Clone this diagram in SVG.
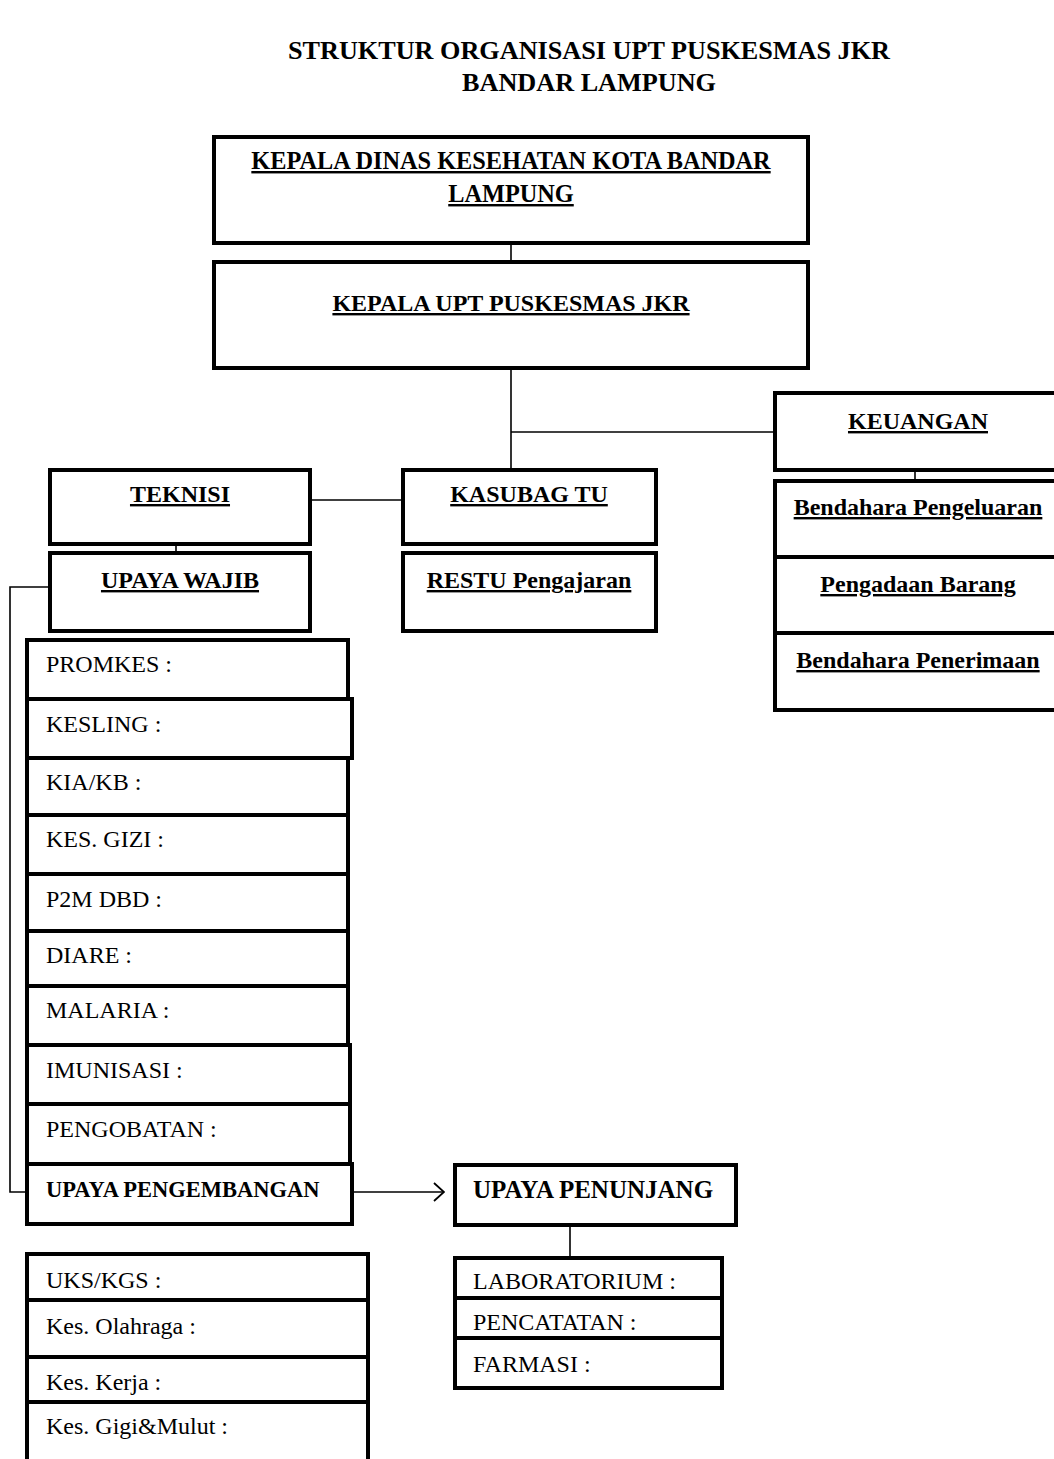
<svg xmlns="http://www.w3.org/2000/svg" width="1054" height="1459" viewBox="0 0 1054 1459">
<style>
.box{fill:#fff;stroke:#000;stroke-width:4}
.ln{fill:none;stroke:#000;stroke-width:1.6}
.b{font-family:"Liberation Serif","Times New Roman",serif;font-weight:bold;font-size:24px;fill:#000}
.u{text-decoration:underline}
.r{font-family:"Liberation Serif","Times New Roman",serif;font-size:24px;fill:#000}
.c{text-anchor:middle}
</style>
<defs>
<marker id="arr" viewBox="0 0 12 20" refX="11" refY="10" markerWidth="12" markerHeight="20" markerUnits="userSpaceOnUse" orient="auto">
<path d="M1,1 L11,10 L1,19" fill="none" stroke="#000" stroke-width="1.8"/>
</marker>
</defs>
<rect width="1054" height="1459" fill="#fff"/>
<g id="title">
<text class="b c" x="589" y="59" style="font-size:26.2px">STRUKTUR ORGANISASI UPT PUSKESMAS JKR</text>
<text class="b c" x="589" y="91" style="font-size:26.2px">BANDAR LAMPUNG</text>
</g>
<g id="connectors">
<line class="ln" x1="511" y1="243" x2="511" y2="262"/>
<line class="ln" x1="511" y1="368" x2="511" y2="470"/>
<line class="ln" x1="511" y1="432" x2="775" y2="432"/>
<line class="ln" x1="915" y1="470" x2="915" y2="481"/>
<line class="ln" x1="310" y1="500" x2="403" y2="500"/>
<line class="ln" x1="176" y1="544" x2="176" y2="553"/>
<polyline class="ln" points="50,587 10,587 10,1192 27,1192"/>
<line class="ln" x1="353" y1="1192" x2="444" y2="1192" marker-end="url(#arr)"/>
<line class="ln" x1="570" y1="1225" x2="570" y2="1258"/>
</g>
<g id="kepala-dinas">
<rect class="box" x="214" y="137" width="594" height="106"/>
<text class="b u c" x="511" y="169" style="font-size:24.3px">KEPALA DINAS KESEHATAN KOTA BANDAR</text>
<text class="b u c" x="511" y="202" style="font-size:24.3px">LAMPUNG</text>
</g>
<g id="kepala-upt">
<rect class="box" x="214" y="262" width="594" height="106"/>
<text class="b u c" x="511" y="311">KEPALA UPT PUSKESMAS JKR</text>
</g>
<g id="keuangan">
<rect class="box" x="775" y="393" width="290" height="77"/>
<text class="b u c" x="918" y="429">KEUANGAN</text>
</g>
<g id="bendahara-pengeluaran">
<rect class="box" x="775" y="481" width="290" height="76"/>
<text class="b u c" x="918" y="515">Bendahara Pengeluaran</text>
</g>
<g id="pengadaan-barang">
<rect class="box" x="775" y="557" width="290" height="76"/>
<text class="b u c" x="918" y="592">Pengadaan Barang</text>
</g>
<g id="bendahara-penerimaan">
<rect class="box" x="775" y="633" width="290" height="77"/>
<text class="b u c" x="918" y="668">Bendahara Penerimaan</text>
</g>
<g id="teknisi">
<rect class="box" x="50" y="470" width="260" height="74"/>
<text class="b u c" x="180" y="502">TEKNISI</text>
</g>
<g id="kasubag-tu">
<rect class="box" x="403" y="470" width="253" height="74"/>
<text class="b u c" x="529" y="502">KASUBAG TU</text>
</g>
<g id="upaya-wajib">
<rect class="box" x="50" y="553" width="260" height="78"/>
<text class="b u c" x="180" y="588">UPAYA WAJIB</text>
</g>
<g id="restu-pengajaran">
<rect class="box" x="403" y="553" width="253" height="78"/>
<text class="b u c" x="529" y="588">RESTU Pengajaran</text>
</g>
<g id="promkes"><rect class="box" x="27" y="640" width="321" height="59"/><text class="r" x="46" y="672">PROMKES :</text></g>
<g id="kesling"><rect class="box" x="27" y="699" width="325" height="59"/><text class="r" x="46" y="732">KESLING :</text></g>
<g id="kia-kb"><rect class="box" x="27" y="758" width="321" height="57"/><text class="r" x="46" y="790">KIA/KB :</text></g>
<g id="kes-gizi"><rect class="box" x="27" y="815" width="321" height="59"/><text class="r" x="46" y="847">KES. GIZI :</text></g>
<g id="p2m-dbd"><rect class="box" x="27" y="874" width="321" height="57"/><text class="r" x="46" y="907">P2M DBD :</text></g>
<g id="diare"><rect class="box" x="27" y="931" width="321" height="55"/><text class="r" x="46" y="963">DIARE :</text></g>
<g id="malaria"><rect class="box" x="27" y="986" width="321" height="59"/><text class="r" x="46" y="1018">MALARIA :</text></g>
<g id="imunisasi"><rect class="box" x="27" y="1045" width="323" height="59"/><text class="r" x="46" y="1078">IMUNISASI :</text></g>
<g id="pengobatan"><rect class="box" x="27" y="1104" width="323" height="60"/><text class="r" x="46" y="1137">PENGOBATAN :</text></g>
<g id="upaya-pengembangan"><rect class="box" x="27" y="1164" width="325" height="60"/><text class="b" x="46" y="1197" style="font-size:22.5px">UPAYA PENGEMBANGAN</text></g>
<g id="upaya-penunjang"><rect class="box" x="455" y="1165" width="281" height="60"/><text class="b" x="473" y="1198" style="font-size:25px">UPAYA PENUNJANG</text></g>
<g id="laboratorium"><rect class="box" x="455" y="1258" width="267" height="40"/><text class="r" x="473" y="1289">LABORATORIUM :</text></g>
<g id="pencatatan"><rect class="box" x="455" y="1298" width="267" height="40"/><text class="r" x="473" y="1330">PENCATATAN :</text></g>
<g id="farmasi"><rect class="box" x="455" y="1338" width="267" height="50"/><text class="r" x="473" y="1372">FARMASI :</text></g>
<g id="uks-kgs"><rect class="box" x="27" y="1254" width="341" height="46"/><text class="r" x="46" y="1288">UKS/KGS :</text></g>
<g id="kes-olahraga"><rect class="box" x="27" y="1300" width="341" height="57"/><text class="r" x="46" y="1334">Kes. Olahraga :</text></g>
<g id="kes-kerja"><rect class="box" x="27" y="1357" width="341" height="45"/><text class="r" x="46" y="1390">Kes. Kerja :</text></g>
<g id="kes-gigi-mulut"><rect class="box" x="27" y="1402" width="341" height="70"/><text class="r" x="46" y="1434">Kes. Gigi&amp;Mulut :</text></g>
</svg>
